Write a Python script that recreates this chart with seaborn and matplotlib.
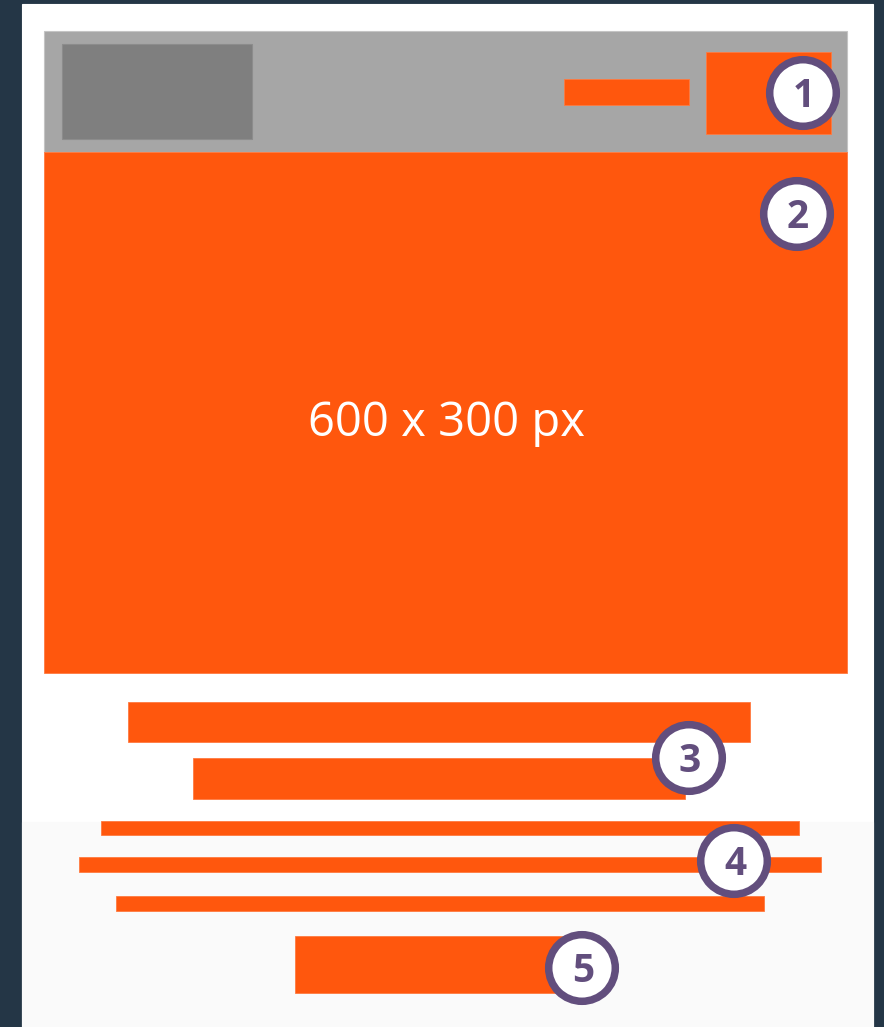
import numpy as np
import seaborn as sns
import matplotlib.pyplot as plt
from matplotlib.patches import Circle

# ======================
# DATA (page wireframe, pixel units)
# ======================

# page areas: background panels
panel_names = ["card", "footer", "header", "logo"]
panel_left = [22, 22, 44, 62]
panel_right = [873, 873, 847, 252]
panel_top = [4, 822, 31, 44]
panel_bottom = [1027, 1027, 152, 139]

# orange content blocks
block_names = ["nav", "button", "hero", "title1", "title2",
               "text1", "text2", "text3", "cta"]
block_left = [564, 706, 44, 128, 193, 101, 79, 116, 295]
block_right = [689, 831, 847, 750, 685, 799, 821, 764, 565]
block_top = [79, 52, 152, 702, 758, 821, 857, 896, 936]
block_bottom = [105, 134, 673, 742, 799, 835, 872, 911, 993]

# numbered markers
marker_labels = ["1", "2", "3", "4", "5"]
marker_x = [803, 797, 689, 734, 582]
marker_y = [93, 214, 758, 861, 968]

hero_label = "600 x 300 px"

# ======================
# STYLE
# ======================

sns.set_theme(style="white")
plt.rcParams['font.family'] = ['Open Sans', 'DejaVu Sans']

ORANGE = "#ff570d"
PURPLE = "#624e7d"
panel_colors = ["#ffffff", "#fafafa", "#a6a6a6", "#7f7f7f"]
panel_edges = ["#ffffff", "#fafafa", "#c4c4c4", "#8c8c8c"]

W, H = 884, 1027
fig = plt.figure(figsize=(W / 100, H / 100), dpi=100, facecolor="#243646")
ax = fig.add_axes([0, 0, 1, 1])
ax.set_xlim(0, W)
ax.set_ylim(H, 0)
ax.axis("off")

# ======================
# DRAW
# ======================

def draw_boxes(left, right, top, bottom, colors, edges, lw=0.8):
    left = np.array(left, dtype=float)
    right = np.array(right, dtype=float)
    top = np.array(top, dtype=float)
    bottom = np.array(bottom, dtype=float)
    ax.barh(y=(top + bottom) / 2, width=right - left, left=left,
            height=bottom - top, color=colors, edgecolor=edges,
            linewidth=lw, align="center")

draw_boxes(panel_left, panel_right, panel_top, panel_bottom,
           panel_colors, panel_edges)
draw_boxes(block_left, block_right, block_top, block_bottom,
           ORANGE, "#ff7a40", lw=0.6)

# hero text
hero_i = block_names.index("hero")
ax.text((block_left[hero_i] + block_right[hero_i]) / 2 + 0.5,
        418, hero_label, color="white", fontsize=34,
        ha="center", va="center_baseline")

# numbered circles
for lab, cx, cy in zip(marker_labels, marker_x, marker_y):
    ax.add_patch(Circle((cx, cy), 33.3, facecolor="white",
                        edgecolor=PURPLE, linewidth=5.4, zorder=5))
    ax.text(cx + 1, cy + 14, lab, color=PURPLE, fontsize=28,
            fontweight="bold", ha="center", va="baseline", zorder=6)

plt.savefig("out.png", dpi=100, facecolor=fig.get_facecolor())
